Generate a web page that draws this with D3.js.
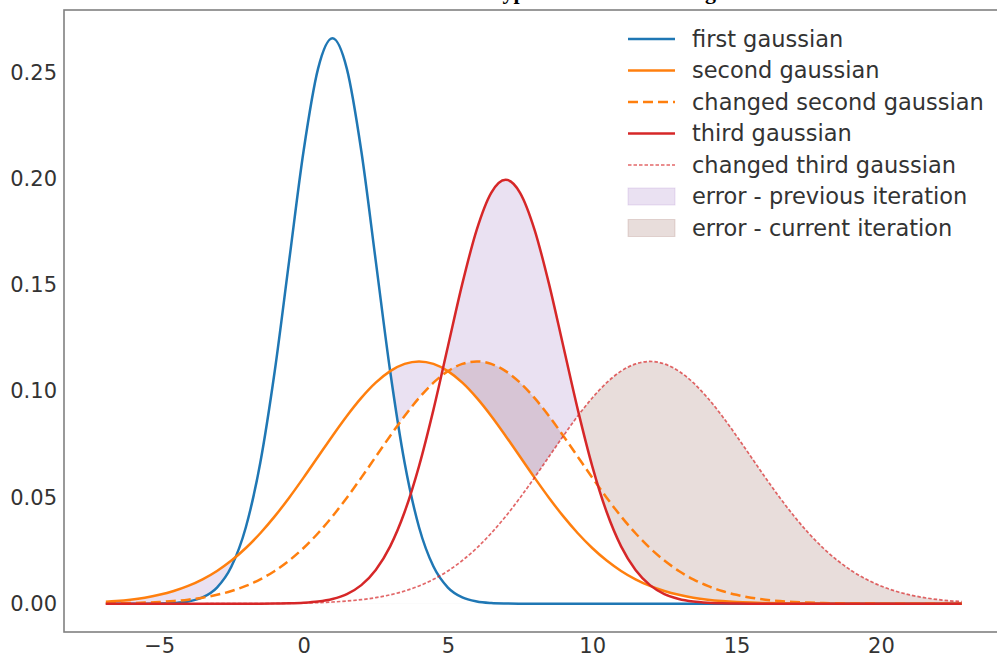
<!DOCTYPE html>
<html>
<head>
<meta charset="utf-8">
<script src="https://cdn.jsdelivr.net/npm/d3@7"></script>
<style>
  html, body { margin: 0; padding: 0; background: #ffffff; }
  svg { display: block; }
</style>
</head>
<body>
<svg id="chart" width="997" height="660"></svg>
<script>
// Sample positions along the x axis
const xs = [-6.85, -6.5, -6, -5.5, -5, -4.5, -4, -3.5, -3, -2.5, -2, -1.5, -1, -0.5, 0, 0.5,
  1, 1.5, 2, 2.5, 3, 3.5, 4, 4.5, 5, 5.5, 6, 6.5, 7, 7.5, 8, 8.5, 9, 9.5, 10, 10.5,
  11, 11.5, 12, 12.5, 13, 13.5, 14, 14.5, 15, 15.5, 16, 16.5, 17, 17.5, 18, 18.5,
  19, 19.5, 20, 20.5, 21, 21.5, 22, 22.5, 22.8];

// Density values of each curve at the sample positions
const firstGaussian = [0, 0, 0, 0.00002, 0.00009, 0.00032, 0.00103, 0.00295, 0.00760, 0.01748,
  0.03599, 0.06632, 0.10934, 0.16131, 0.21297, 0.25159, 0.26596, 0.25159, 0.21297, 0.16131,
  0.10934, 0.06632, 0.03599, 0.01748, 0.00760, 0.00295, 0.00103, 0.00032, 0.00009, 0.00002,
  0, 0, 0, 0, 0, 0, 0, 0, 0, 0, 0, 0, 0, 0, 0, 0, 0, 0, 0, 0, 0, 0, 0, 0, 0, 0, 0, 0, 0, 0, 0];

const secondGaussian = [0.00093, 0.00127, 0.00192, 0.00286, 0.00418, 0.00597, 0.00836, 0.01147,
  0.01543, 0.02032, 0.02622, 0.03316, 0.04108, 0.04987, 0.05932, 0.06913, 0.07894, 0.08832,
  0.09681, 0.10398, 0.10942, 0.11282, 0.11398, 0.11282, 0.10942, 0.10398, 0.09681, 0.08832,
  0.07894, 0.06913, 0.05932, 0.04987, 0.04108, 0.03316, 0.02622, 0.02032, 0.01543, 0.01147,
  0.00836, 0.00597, 0.00418, 0.00286, 0.00192, 0.00127, 0.00082, 0.00052, 0.00032, 0.00019,
  0.00012, 0.00007, 0.00004, 0.00002, 0.00001, 0, 0, 0, 0, 0, 0, 0, 0];

const changedSecondGaussian = [0.00014, 0.00019, 0.00032, 0.00052, 0.00082, 0.00127, 0.00192,
  0.00286, 0.00418, 0.00597, 0.00836, 0.01147, 0.01543, 0.02032, 0.02622, 0.03316, 0.04108,
  0.04987, 0.05932, 0.06913, 0.07894, 0.08832, 0.09681, 0.10398, 0.10942, 0.11282, 0.11398,
  0.11282, 0.10942, 0.10398, 0.09681, 0.08832, 0.07894, 0.06913, 0.05932, 0.04987, 0.04108,
  0.03316, 0.02622, 0.02032, 0.01543, 0.01147, 0.00836, 0.00597, 0.00418, 0.00286, 0.00192,
  0.00127, 0.00082, 0.00052, 0.00032, 0.00019, 0.00012, 0.00007, 0.00004, 0.00002, 0.00001,
  0, 0, 0, 0];

const thirdGaussian = [0, 0, 0, 0, 0, 0, 0, 0, 0, 0, 0.00001, 0.00002, 0.00007, 0.00018, 0.00044,
  0.00101, 0.00222, 0.00455, 0.00876, 0.01587, 0.02700, 0.04314, 0.06476, 0.09132, 0.12098,
  0.15057, 0.17603, 0.19333, 0.19947, 0.19333, 0.17603, 0.15057, 0.12098, 0.09132, 0.06476,
  0.04314, 0.02700, 0.01587, 0.00876, 0.00455, 0.00222, 0.00101, 0.00044, 0.00018, 0.00007,
  0.00002, 0.00001, 0, 0, 0, 0, 0, 0, 0, 0, 0, 0, 0, 0, 0, 0];

const changedThirdGaussian = [0, 0, 0, 0, 0, 0, 0, 0, 0.00001, 0.00002, 0.00004, 0.00007, 0.00012,
  0.00019, 0.00032, 0.00052, 0.00082, 0.00127, 0.00192, 0.00286, 0.00418, 0.00597, 0.00836,
  0.01147, 0.01543, 0.02032, 0.02622, 0.03316, 0.04108, 0.04987, 0.05932, 0.06913, 0.07894,
  0.08832, 0.09681, 0.10398, 0.10942, 0.11282, 0.11398, 0.11282, 0.10942, 0.10398, 0.09681,
  0.08832, 0.07894, 0.06913, 0.05932, 0.04987, 0.04108, 0.03316, 0.02622, 0.02032, 0.01543,
  0.01147, 0.00836, 0.00597, 0.00418, 0.00286, 0.00192, 0.00127, 0.00098];

const xTicks = [-5, 0, 5, 10, 15, 20];
const yTicks = [0, 0.05, 0.10, 0.15, 0.20, 0.25];

const lineLabels = ["first gaussian", "second gaussian", "changed second gaussian",
  "third gaussian", "changed third gaussian"];
const fillLabels = ["error - previous iteration", "error - current iteration"];
const titleText = "The hypothesis before change";

// ---------------------------------------------------------------------------
const W = 997, H = 660;
const plot = { left: 64, top: 10, right: 1005, bottom: 632 };

const svg = d3.select("#chart");

const x = d3.scaleLinear().domain([-8.3, 24.3]).range([plot.left, plot.right]);
const y = d3.scaleLinear().domain([-0.0133, 0.2793]).range([plot.bottom, plot.top]);

const colors = {
  blue: "#1f77b4", orange: "#ff7f0e", red: "#d62728",
  purple: "#9467bd", brown: "#8c564b"
};

const line = d3.line()
  .x((d, i) => x(xs[i]))
  .y(d => y(d))
  .curve(d3.curveMonotoneX);

const under = d3.area()
  .x((d, i) => x(xs[i]))
  .y0(y(0))
  .y1(d => y(d))
  .curve(d3.curveMonotoneX);

const defs = svg.append("defs");
defs.append("clipPath").attr("id", "plotClip")
  .append("rect")
  .attr("x", plot.left).attr("y", plot.top)
  .attr("width", plot.right - plot.left).attr("height", plot.bottom - plot.top);

// A region lying under one curve but above all of the others
function regionMask(id, keep, remove) {
  const m = defs.append("mask").attr("id", id)
    .attr("maskUnits", "userSpaceOnUse")
    .attr("x", 0).attr("y", 0).attr("width", W).attr("height", H);
  m.append("path").attr("d", under(keep)).attr("fill", "#fff");
  remove.forEach(s => m.append("path").attr("d", under(s)).attr("fill", "#000"));
}

const g1 = firstGaussian, g2 = secondGaussian, g2c = changedSecondGaussian,
      g3 = thirdGaussian, g3c = changedThirdGaussian;

// error between the curve sets when the second gaussian is moved
regionMask("secondLoss", g2, [g1, g2c, g3c]);
regionMask("secondGain", g2c, [g1, g2, g3c]);
// error between the curve sets when the third gaussian is moved
regionMask("thirdLoss", g3, [g1, g2, g3c]);
regionMask("thirdGain", g3c, [g1, g2, g3]);

const plotArea = svg.append("g").attr("clip-path", "url(#plotClip)");

const fills = [
  { mask: "secondGain", color: colors.brown },
  { mask: "thirdGain", color: colors.brown },
  { mask: "secondLoss", color: colors.purple },
  { mask: "thirdLoss", color: colors.purple }
];
fills.forEach(f => {
  plotArea.append("rect")
    .attr("x", plot.left).attr("y", plot.top)
    .attr("width", plot.right - plot.left).attr("height", plot.bottom - plot.top)
    .attr("fill", f.color).attr("fill-opacity", 0.2)
    .attr("mask", `url(#${f.mask})`);
});

const lineStyles = [
  { data: g1, color: colors.blue, width: 2.5, dash: null, opacity: 1 },
  { data: g2, color: colors.orange, width: 2.5, dash: null, opacity: 1 },
  { data: g2c, color: colors.orange, width: 2.5, dash: "10,5", opacity: 1 },
  { data: g3, color: colors.red, width: 2.5, dash: null, opacity: 1 },
  { data: g3c, color: colors.red, width: 1.7, dash: "3.5,2", opacity: 0.7 }
];

lineStyles.forEach(s => {
  plotArea.append("path")
    .attr("d", line(s.data))
    .attr("fill", "none")
    .attr("stroke", s.color)
    .attr("stroke-width", s.width)
    .attr("stroke-opacity", s.opacity)
    .attr("stroke-dasharray", s.dash)
    .attr("stroke-linejoin", "round");
});

// Frame
svg.append("rect")
  .attr("x", plot.left).attr("y", plot.top)
  .attr("width", plot.right - plot.left).attr("height", plot.bottom - plot.top)
  .attr("fill", "none").attr("stroke", "#808080").attr("stroke-width", 1.6);

// Axes (labels only, no tick marks)
const fmtY = d3.format(".2f");
const xAxis = d3.axisBottom(x).tickValues(xTicks).tickSize(0).tickPadding(6)
  .tickFormat(d => d < 0 ? "\u2212" + Math.abs(d) : String(d));
const yAxis = d3.axisLeft(y).tickValues(yTicks).tickSize(0).tickPadding(7)
  .tickFormat(fmtY);

const gx = svg.append("g").attr("transform", `translate(0,${plot.bottom})`).call(xAxis);
const gy = svg.append("g").attr("transform", `translate(${plot.left},0)`).call(yAxis);
[gx, gy].forEach(g => {
  g.select(".domain").remove();
  g.selectAll("text")
    .attr("fill", "#333333")
    .style("font-family", "'DejaVu Sans', sans-serif")
    .style("font-size", "21px");
});

// Legend
const legend = svg.append("g").attr("transform", "translate(628,39)");
const rowH = 31.5;
const legendFont = "22.5px";
lineStyles.forEach((s, i) => {
  const row = legend.append("g").attr("transform", `translate(0,${i * rowH})`);
  row.append("line")
    .attr("x1", 0).attr("x2", 47).attr("y1", 0).attr("y2", 0)
    .attr("stroke", s.color).attr("stroke-width", s.width)
    .attr("stroke-opacity", s.opacity)
    .attr("stroke-dasharray", s.dash);
  row.append("text")
    .attr("x", 64).attr("y", 0).attr("dy", "0.35em")
    .attr("fill", "#333333")
    .style("font-family", "'DejaVu Sans', sans-serif")
    .style("font-size", legendFont)
    .text(lineLabels[i]);
});
[colors.purple, colors.brown].forEach((c, j) => {
  const i = lineStyles.length + j;
  const row = legend.append("g").attr("transform", `translate(0,${i * rowH})`);
  row.append("rect")
    .attr("x", 0).attr("y", -8.5).attr("width", 47).attr("height", 17)
    .attr("fill", c).attr("fill-opacity", 0.2)
    .attr("stroke", c).attr("stroke-opacity", 0.2);
  row.append("text")
    .attr("x", 64).attr("y", 0).attr("dy", "0.35em")
    .attr("fill", "#333333")
    .style("font-family", "'DejaVu Sans', sans-serif")
    .style("font-size", legendFont)
    .text(fillLabels[j]);
});

// Title (sits mostly above the top edge of the page)
svg.append("text")
  .attr("x", 448).attr("y", -1)
  .attr("fill", "#000")
  .style("font-family", "'Liberation Serif', 'DejaVu Serif', serif")
  .style("font-weight", "bold")
  .style("font-size", "22px")
  .text(titleText);
</script>
</body>
</html>
